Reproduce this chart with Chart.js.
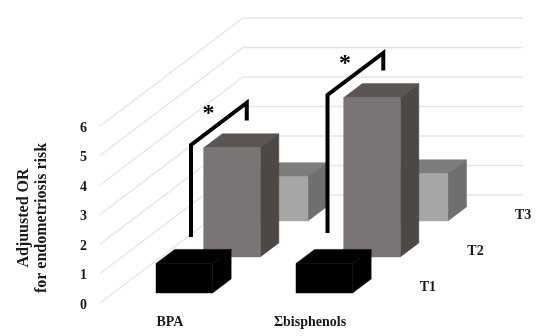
<!DOCTYPE html>
<html>
<head>
<meta charset="utf-8">
<title>Adjusted OR</title>
<script src="https://cdn.jsdelivr.net/npm/chart.js@4"></script>
<style>
html, body { margin: 0; padding: 0; background: #fff; }
canvas { display: block; }
</style>
</head>
<body>
<canvas id="orChart" width="550" height="336"></canvas>
<script>
const categories = ['BPA', 'Σbisphenols'];
const seriesNames = ['T1', 'T2', 'T3'];
const t1Values = [1.0, 1.0];
const t2Values = [3.7, 5.4];
const t3Values = [1.5, 1.6];
const yTicks = [0, 1, 2, 3, 4, 5, 6];
const yTitleLines = ['Adjuusted OR', 'for endometriosis risk'];

// significance brackets, one per category (in axis units)
const bracketLow = [2.24, 2.37];
const bracketHigh = [5.36, 7.05];
const bracketDrop = [0.6, 0.6];

const faceColors = [
    { front: '#000000', top: '#000000', side: '#000000' },
    { front: '#7a7574', top: '#5b5654', side: '#4d4845' },
    { front: '#a6a6a6', top: '#7d7d7d', side: '#6f6f6f' }
];

const labelFont = 'bold 14px "Liberation Serif"';
const depthX = 143;
const depthY = 108;
const barInset = 0.093;
const barDepth = 0.13;

function shift(x, y, depth) {
    return [x + depthX * depth, y - depthY * depth];
}

function fillPoly(ctx, color, points) {
    ctx.fillStyle = color;
    ctx.strokeStyle = color;
    ctx.lineWidth = 0.5;
    ctx.beginPath();
    points.forEach((p, i) => i ? ctx.lineTo(p[0], p[1]) : ctx.moveTo(p[0], p[1]));
    ctx.closePath();
    ctx.fill();
    ctx.stroke();
}

const bars3d = {
    id: 'bars3d',
    beforeDatasetsDraw(chart) {
        const { ctx, chartArea, scales } = chart;
        ctx.save();
        ctx.strokeStyle = '#e6e6e6';
        ctx.lineWidth = 1.5;
        yTicks.forEach(v => {
            const y = scales.y.getPixelForValue(v);
            const back = shift(chartArea.left, y, 1);
            const end = shift(chartArea.right, y, 1);
            ctx.beginPath();
            ctx.moveTo(chartArea.left, y);
            ctx.lineTo(back[0], back[1]);
            ctx.lineTo(end[0], end[1]);
            ctx.stroke();
        });
        ctx.restore();
    },
    beforeDatasetDraw(chart, args) {
        const ctx = chart.ctx;
        const colors = faceColors[args.index];
        const near = (args.index + barInset * 3) / 3;
        args.meta.data.forEach(bar => {
            const left = bar.x - bar.width / 2 + 1;
            const right = bar.x + bar.width / 2 + 1;
            const a = shift(left, bar.y, near);
            const b = shift(right, bar.y, near);
            const c = shift(right, bar.base, near);
            const d = shift(left, bar.base, near);
            const at = shift(a[0], a[1], barDepth);
            const bt = shift(b[0], b[1], barDepth);
            const ct = shift(c[0], c[1], barDepth);
            fillPoly(ctx, colors.top, [a, at, bt, b]);
            fillPoly(ctx, colors.side, [b, bt, ct, c]);
            fillPoly(ctx, colors.front, [a, b, c, d]);
        });
        return false;
    },
    afterDatasetsDraw(chart) {
        const { ctx, chartArea, scales } = chart;
        ctx.save();
        // series names along the depth axis
        ctx.fillStyle = '#1a1a1a';
        ctx.font = labelFont;
        ctx.textAlign = 'center';
        ctx.textBaseline = 'middle';
        seriesNames.forEach((name, i) => {
            const p = shift(chartArea.right + 24, scales.y.getPixelForValue(0) + 2.5, (i + 0.5) / 3);
            ctx.fillText(name, p[0], p[1]);
        });
        // y title, sits a little below the middle of the axis
        ctx.save();
        ctx.translate(0, (chartArea.top + chartArea.bottom) / 2 + 3.5);
        ctx.rotate(-Math.PI / 2);
        ctx.font = 'bold 16px "Liberation Serif"';
        yTitleLines.forEach((line, i) => ctx.fillText(line, 0, 24 + i * 18));
        ctx.restore();
        // brackets with asterisks
        categories.forEach((cat, i) => {
            const x = scales.x.getPixelForValue(i) + (i === 0 ? 21 : 17.5);
            const low = scales.y.getPixelForValue(bracketLow[i]);
            const high = scales.y.getPixelForValue(bracketHigh[i]);
            const end = shift(x, high, 0.39);
            const dropY = end[1] + (scales.y.getPixelForValue(0) - scales.y.getPixelForValue(bracketDrop[i]));
            ctx.strokeStyle = '#000';
            ctx.lineWidth = 4;
            ctx.lineJoin = 'miter';
            ctx.beginPath();
            ctx.moveTo(x, low);
            ctx.lineTo(x, high);
            ctx.lineTo(end[0], end[1]);
            ctx.lineTo(end[0], dropY);
            ctx.stroke();
            ctx.fillStyle = '#000';
            ctx.font = 'bold 24px "Liberation Serif"';
            ctx.fillText('*', (x + end[0]) / 2 - 10.5, (high + end[1]) / 2 - 10);
        });
        ctx.restore();
    }
};

new Chart(document.getElementById('orChart'), {
    type: 'bar',
    data: {
        labels: categories,
        datasets: [
            { label: seriesNames[0], data: t1Values, backgroundColor: faceColors[0].front },
            { label: seriesNames[1], data: t2Values, backgroundColor: faceColors[1].front },
            { label: seriesNames[2], data: t3Values, backgroundColor: faceColors[2].front }
        ]
    },
    options: {
        responsive: false,
        animation: false,
        layout: { padding: { top: 126, right: 170, left: 0, bottom: 0 } },
        datasets: { bar: { grouped: false, barPercentage: 0.404, categoryPercentage: 1 } },
        plugins: { legend: { display: false }, tooltip: { enabled: false } },
        scales: {
            x: {
                grid: { display: false, drawTicks: false },
                border: { display: false },
                ticks: { color: '#1a1a1a', font: { family: 'Liberation Serif', size: 14, weight: 'bold' }, padding: 11, maxRotation: 0 },
                afterFit(scale) { scale.height = 33; }
            },
            y: {
                min: 0,
                max: 6,
                grid: { display: false, drawTicks: false },
                border: { display: false },
                afterBuildTicks(scale) { scale.ticks = yTicks.map(v => ({ value: v })); },
                ticks: { color: '#1a1a1a', font: { family: 'Liberation Serif', size: 14, weight: 'bold' }, padding: 13, labelOffset: 2 },
                afterFit(scale) { scale.width = 100; }
            }
        }
    },
    plugins: [bars3d]
});
</script>
</body>
</html>
